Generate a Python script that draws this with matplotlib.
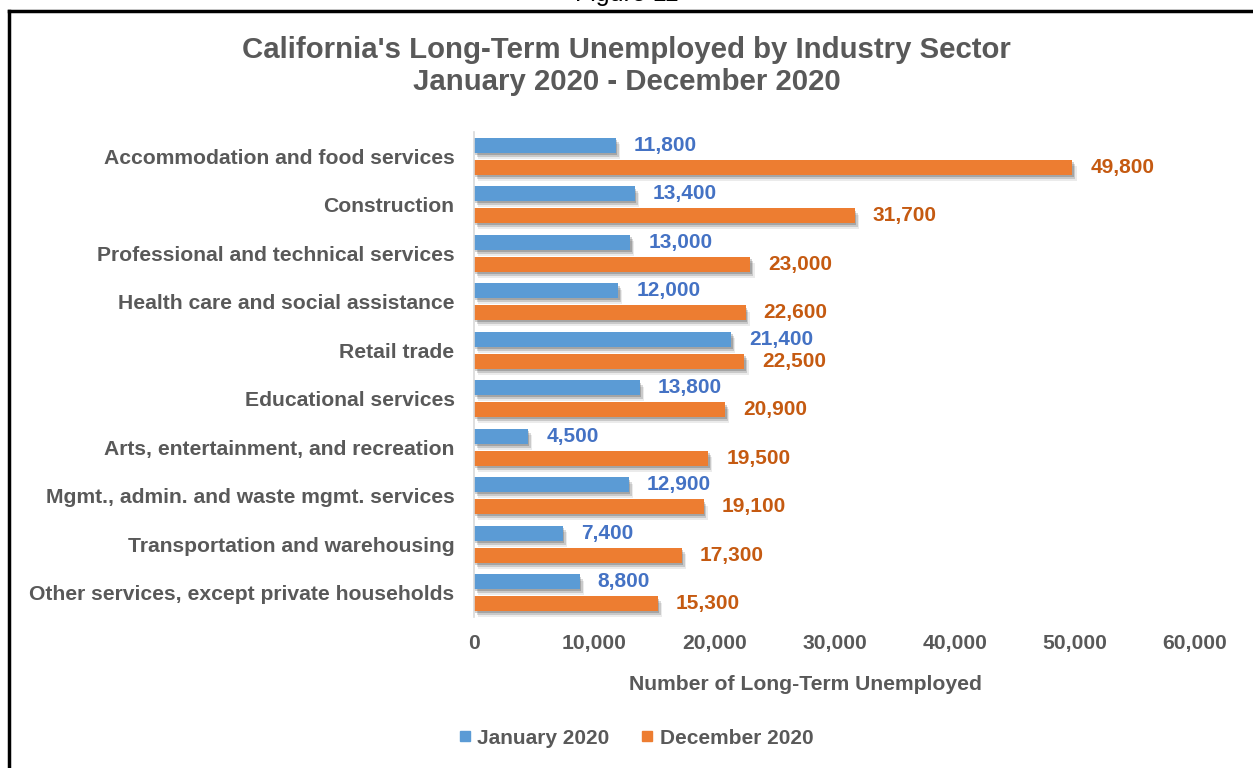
import matplotlib
matplotlib.use("Agg")
import matplotlib.pyplot as plt
import matplotlib.patheffects as pe
from matplotlib.lines import Line2D
import numpy as np

plt.rcParams['font.family'] = ['Liberation Sans', 'DejaVu Sans']

categories = [
    "Accommodation and food services",
    "Construction",
    "Professional and technical services",
    "Health care and social assistance",
    "Retail trade",
    "Educational services",
    "Arts, entertainment, and recreation",
    "Mgmt., admin. and waste mgmt. services",
    "Transportation and warehousing",
    "Other services, except private households",
]
jan_2020 = [11800, 13400, 13000, 12000, 21400, 13800, 4500, 12900, 7400, 8800]
dec_2020 = [49800, 31700, 23000, 22600, 22500, 20900, 19500, 19100, 17300, 15300]
series_names = ["January 2020", "December 2020"]
x_ticks = [0, 10000, 20000, 30000, 40000, 50000, 60000]

GRAY = "#595959"
BLUE_BAR, BLUE_TXT = "#5B9BD5", "#4472C4"
ORANGE_BAR, ORANGE_TXT = "#ED7D31", "#C55A11"

W, H = 1253, 768
fig = plt.figure(figsize=(W / 100, H / 100), dpi=100)
ax = fig.add_axes([474 / W, 1 - 617 / H, 721 / W, 485 / H])

y = np.arange(len(categories))
h = 0.30
off = 0.227
# soft drop shadow built from a few stacked offsets
shadow = [pe.SimplePatchShadow(offset=(1, -1.5), shadow_rgbFace="#000000", alpha=0.18),
          pe.SimplePatchShadow(offset=(2, -3), shadow_rgbFace="#000000", alpha=0.14),
          pe.SimplePatchShadow(offset=(3, -4.5), shadow_rgbFace="#000000", alpha=0.08),
          pe.Normal()]

b1 = ax.barh(y - off, jan_2020, height=h, color=BLUE_BAR, label=series_names[0])
b2 = ax.barh(y + off, dec_2020, height=h, color=ORANGE_BAR, label=series_names[1])
for bars in (b1, b2):
    for p in bars:
        p.set_path_effects(shadow)

for yi, v in zip(y - off, jan_2020):
    ax.annotate(f"{v:,}", (v, yi), xytext=(13, 0), textcoords="offset points",
                va="center", ha="left", color=BLUE_TXT, fontsize=15, fontweight="bold")
for yi, v in zip(y + off, dec_2020):
    ax.annotate(f"{v:,}", (v, yi), xytext=(13, 0), textcoords="offset points",
                va="center", ha="left", color=ORANGE_TXT, fontsize=15, fontweight="bold")

ax.set_xlim(0, 60000)
ax.set_ylim(len(categories) - 0.5, -0.5)
ax.set_yticks(y)
ax.set_yticklabels(categories, fontsize=15.2, fontweight="bold", color=GRAY)
ax.set_xticks(x_ticks)
ax.set_xticklabels([f"{t:,}" for t in x_ticks], fontsize=15.2, fontweight="bold", color=GRAY)
ax.tick_params(axis="both", length=0)
ax.tick_params(axis="y", pad=14)
ax.tick_params(axis="x", pad=12)
for s in ("top", "right", "bottom"):
    ax.spines[s].set_visible(False)
ax.spines["left"].set_color("#D9D9D9")
ax.spines["left"].set_linewidth(1.2)

ax.set_xlabel("Number of Long-Term Unemployed", fontsize=15.2, fontweight="bold",
              color=GRAY)
ax.xaxis.set_label_coords((805 - 474) / 721, (617 - 685) / 485)
ax.xaxis.label.set_va("center")

fig.text(0.5, 1 - 50 / H, "California's Long-Term Unemployed by Industry Sector",
         ha="center", va="center", fontsize=21.2, fontweight="bold", color=GRAY)
fig.text(0.5, 1 - 82 / H, "January 2020 - December 2020",
         ha="center", va="center", fontsize=21.2, fontweight="bold", color=GRAY)

handles = [Line2D([], [], marker="s", linestyle="none", markersize=7, color=BLUE_BAR),
           Line2D([], [], marker="s", linestyle="none", markersize=7, color=ORANGE_BAR)]
fig.legend(handles, series_names, loc="center", bbox_to_anchor=(636 / W, 1 - 738 / H),
           ncol=2, frameon=False, handlelength=0.6, handletextpad=0.3, columnspacing=1.5,
           prop={"size": 15, "weight": "bold"}, labelcolor=GRAY)

# Page heading and frame
fig.text(0.5, 1 - (-6) / H, "Figure 11", ha="center", va="center", fontsize=18, color="black")
fig.add_artist(Line2D([9 / W, 1], [1 - 11 / H, 1 - 11 / H], color="black", lw=2.5))
fig.add_artist(Line2D([9 / W, 9 / W], [0, 1 - 11 / H], color="black", lw=2.5))

fig.savefig("out.png", dpi=100, facecolor="white")
